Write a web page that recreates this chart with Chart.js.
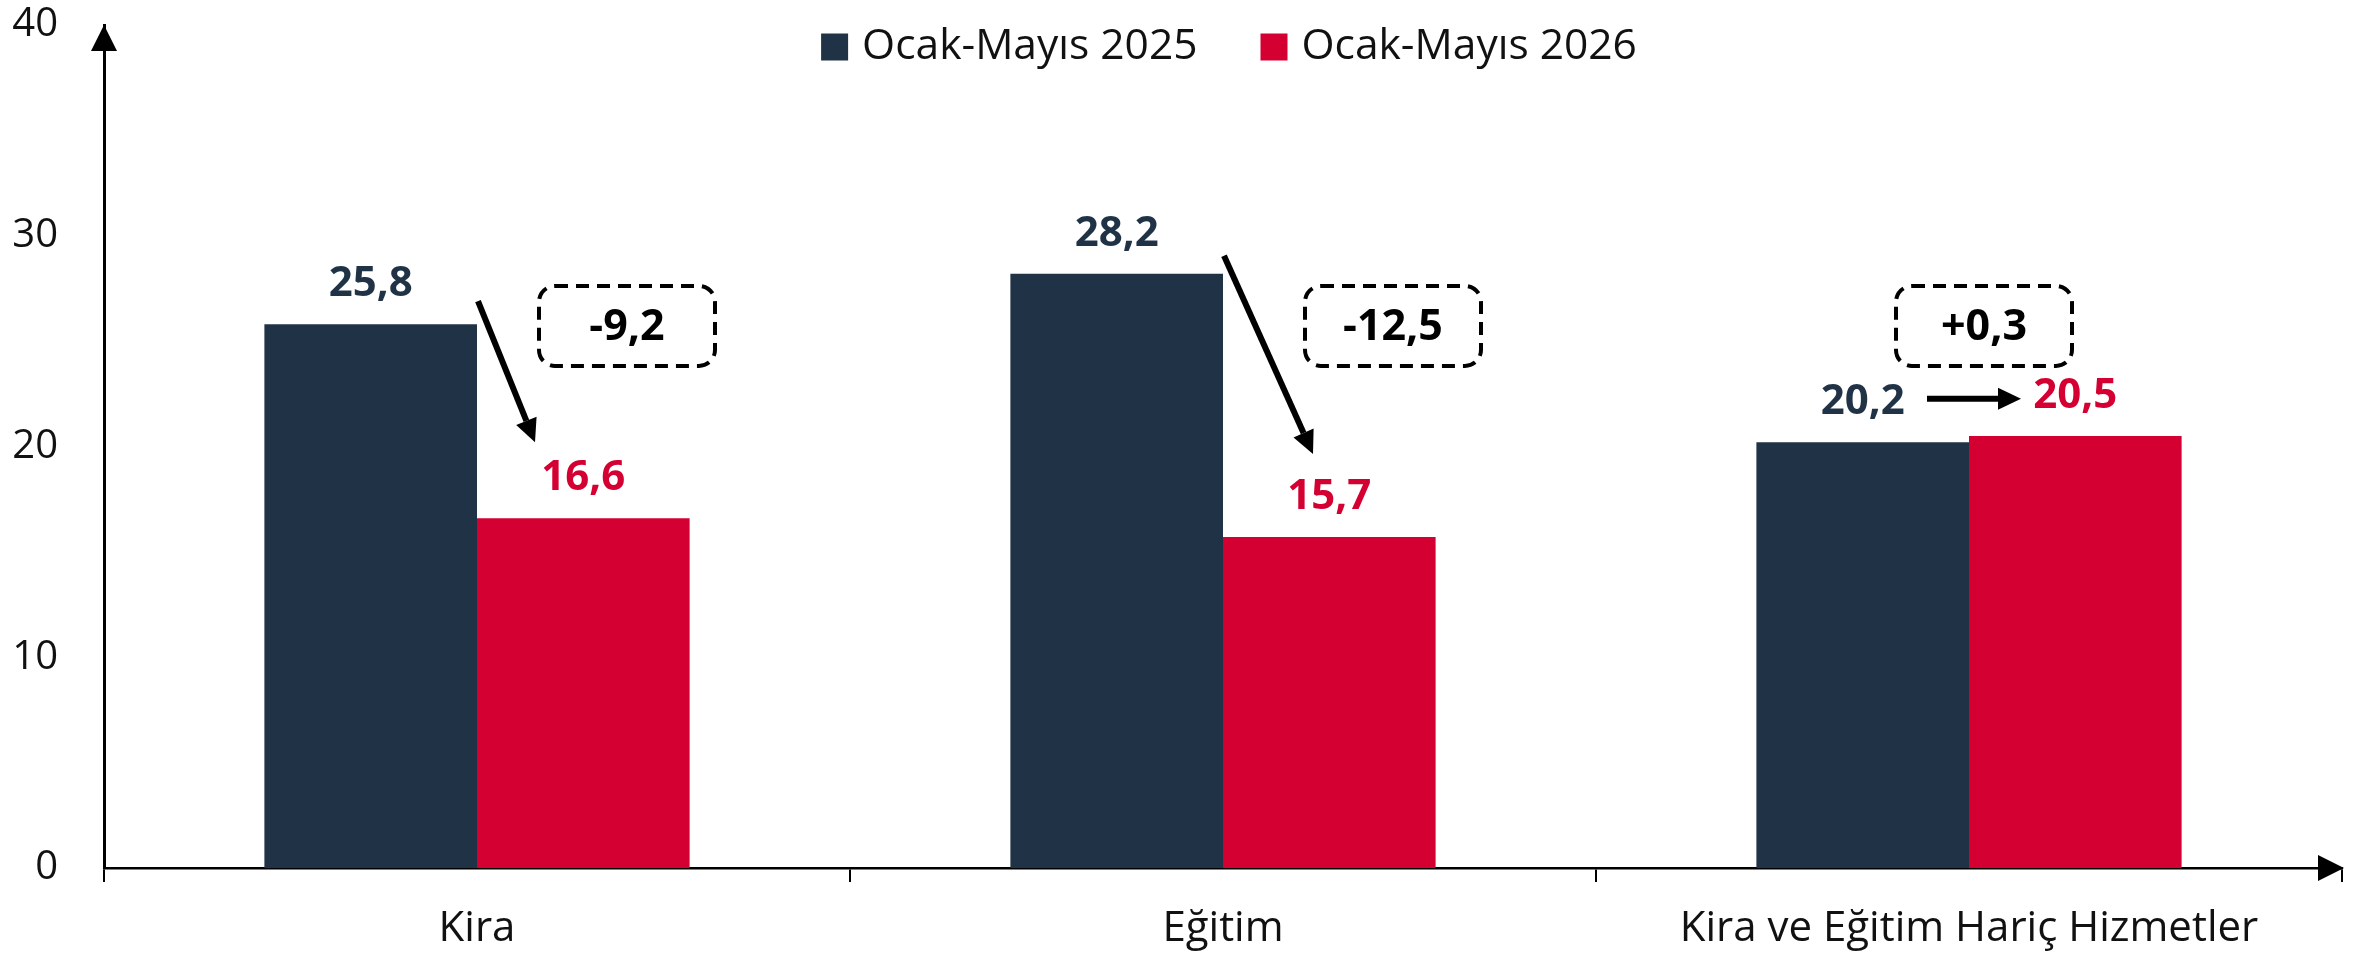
<!DOCTYPE html>
<html>
<head>
<meta charset="utf-8">
<script src="https://cdn.jsdelivr.net/npm/chart.js@4.4.1/dist/chart.umd.min.js"></script>
<style>
  html, body { margin: 0; padding: 0; background: #fff; }
  #kutu { width: 2359px; height: 957px; }
</style>
</head>
<body>
<div id="kutu"><canvas id="grafik"></canvas></div>
<script>
// Veriler
const kategoriler = ['Kira', 'Eğitim', 'Kira ve Eğitim Hariç Hizmetler'];
const seri_adlari = ['Ocak-Mayıs 2025', 'Ocak-Mayıs 2026'];
const degerler_2025 = [25.8, 28.2, 20.2];
const degerler_2026 = [16.6, 15.7, 20.5];
const y_etiketleri = [0, 10, 20, 30, 40];

const renk_lacivert = '#1f3246';
const renk_kirmizi = '#d40032';

// Ok ve kutu yerleşimi (kategori merkezinden px, y ekseninde değer)
const oklar = [
    { x1: 1, v1: 26.9, x2: 58, v2: 20.2 },
    { x1: 1, v1: 29.05, x2: 90, v2: 19.65 },
    { x1: -42, v1: 22.27, x2: 52, v2: 22.27 }
];
const kutu_kaydirma = [150, 170, 15];
const kutu_deger = 25.72;

function bicimle(sayi, isaretli) {
    var metin = Math.abs(sayi).toFixed(1).replace('.', ',');
    if (!isaretli) return metin;
    return (sayi < 0 ? '-' : '+') + metin;
}

function ok_ciz(ctx, x1, y1, x2, y2, kalinlik, uzunluk, yarim) {
    var aci = Math.atan2(y2 - y1, x2 - x1);
    var bx = x2 - uzunluk * Math.cos(aci);
    var by = y2 - uzunluk * Math.sin(aci);
    ctx.save();
    ctx.strokeStyle = '#000';
    ctx.fillStyle = '#000';
    ctx.lineWidth = kalinlik;
    ctx.beginPath();
    ctx.moveTo(x1, y1);
    ctx.lineTo(bx, by);
    ctx.stroke();
    ctx.beginPath();
    ctx.moveTo(x2, y2);
    ctx.lineTo(bx + yarim * Math.sin(aci), by - yarim * Math.cos(aci));
    ctx.lineTo(bx - yarim * Math.sin(aci), by + yarim * Math.cos(aci));
    ctx.closePath();
    ctx.fill();
    ctx.restore();
}

// Lejant, etiketler, oklar ve kutular
const eklenti = {
    id: 'ekler',
    afterDraw(chart) {
        const ctx = chart.ctx;
        const alan = chart.chartArea;
        const xs = chart.scales.x;
        const ys = chart.scales.y;

        // eksen okları
        ctx.save();
        ctx.fillStyle = '#000';
        ctx.beginPath();
        ctx.moveTo(alan.left, alan.top);
        ctx.lineTo(alan.left - 13, alan.top + 26);
        ctx.lineTo(alan.left + 13, alan.top + 26);
        ctx.closePath();
        ctx.fill();
        ctx.beginPath();
        ctx.moveTo(alan.right + 2, alan.bottom);
        ctx.lineTo(alan.right - 24, alan.bottom - 13);
        ctx.lineTo(alan.right - 24, alan.bottom + 13);
        ctx.closePath();
        ctx.fill();
        ctx.restore();

        // değer etiketleri
        ctx.save();
        ctx.font = 'bold 42px "Open Sans"';
        ctx.textAlign = 'center';
        ctx.textBaseline = 'middle';
        chart.data.datasets.forEach(function(ds, i) {
            chart.getDatasetMeta(i).data.forEach(function(bar, j) {
                ctx.fillStyle = ds.backgroundColor;
                ctx.fillText(bicimle(ds.data[j], false), bar.x, bar.y - 40);
            });
        });
        ctx.restore();

        // oklar
        oklar.forEach(function(o, j) {
            var m = xs.getPixelForValue(j);
            ok_ciz(ctx, m + o.x1, ys.getPixelForValue(o.v1), m + o.x2, ys.getPixelForValue(o.v2), 6, 23, 11);
        });

        // fark kutuları
        ctx.save();
        var yk = ys.getPixelForValue(kutu_deger);
        kategoriler.forEach(function(k, j) {
            var m = xs.getPixelForValue(j) + kutu_kaydirma[j];
            ctx.setLineDash([13, 8]);
            ctx.lineWidth = 4;
            ctx.strokeStyle = '#000';
            ctx.beginPath();
            ctx.roundRect(m - 88, yk - 40, 176, 80, 16);
            ctx.stroke();
            ctx.setLineDash([]);
            ctx.fillStyle = '#000';
            ctx.font = 'bold 43px "Open Sans"';
            ctx.textAlign = 'center';
            ctx.textBaseline = 'middle';
            ctx.fillText(bicimle(degerler_2026[j] - degerler_2025[j], true), m, yk + 2);
        });
        ctx.restore();

        // lejant
        ctx.save();
        ctx.font = '42.5px "Open Sans"';
        ctx.textBaseline = 'middle';
        var kare = 27, bosluk = 14, ara = 63;
        var genislikler = chart.data.datasets.map(function(ds) { return ctx.measureText(ds.label).width; });
        var toplam = genislikler.reduce(function(a, b) { return a + b; }, 0) + 2 * (kare + bosluk) + ara;
        var x = (alan.left + alan.right) / 2 - toplam / 2 + 6;
        var y = 47;
        chart.data.datasets.forEach(function(ds, i) {
            ctx.fillStyle = ds.backgroundColor;
            ctx.fillRect(x, y - kare / 2, kare, kare);
            x += kare + bosluk;
            ctx.fillStyle = '#111';
            ctx.fillText(ds.label, x, y);
            x += genislikler[i] + ara;
        });
        ctx.restore();
    }
};

function grafik_olustur() {
    Chart.defaults.font.family = '"Open Sans", sans-serif';
    Chart.defaults.color = '#111';
    var contexto = document.getElementById('grafik').getContext('2d');
    new Chart(contexto, {
        type: 'bar',
        data: {
            labels: kategoriler,
            datasets: [
                { label: seri_adlari[0], data: degerler_2025, backgroundColor: renk_lacivert },
                { label: seri_adlari[1], data: degerler_2026, backgroundColor: renk_kirmizi }
            ]
        },
        options: {
            responsive: true,
            maintainAspectRatio: false,
            animation: false,
            layout: { padding: { top: 0, right: 17, left: 0, bottom: 0 } },
            datasets: { bar: { categoryPercentage: 0.57, barPercentage: 1.0 } },
            plugins: {
                legend: { display: false },
                tooltip: { enabled: false }
            },
            scales: {
                x: {
                    grid: { display: true, drawOnChartArea: false, drawTicks: true, tickLength: 14, color: '#000', lineWidth: 2, offset: true },
                    border: { display: true, color: '#000', width: 2.5 },
                    ticks: { font: { size: 42 }, padding: 22, color: '#111' },
                    afterFit: function(s) { s.height = 89; }
                },
                y: {
                    min: 0,
                    max: 40,
                    afterBuildTicks: function(s) { s.ticks = y_etiketleri.map(function(v) { return { value: v }; }); },
                    grid: { display: false, drawTicks: false },
                    border: { display: true, color: '#000', width: 3 },
                    ticks: { font: { size: 40 }, padding: 46, color: '#111' },
                    afterFit: function(s) {
                        s.width = 104;
                        s.paddingTop = 25;
                        s.paddingBottom = 0;
                    }
                }
            }
        },
        plugins: [eklenti]
    });
}

Promise.all([
    document.fonts.load('40px "Open Sans"'),
    document.fonts.load('bold 42px "Open Sans"')
]).then(grafik_olustur, grafik_olustur);
</script>
</body>
</html>
